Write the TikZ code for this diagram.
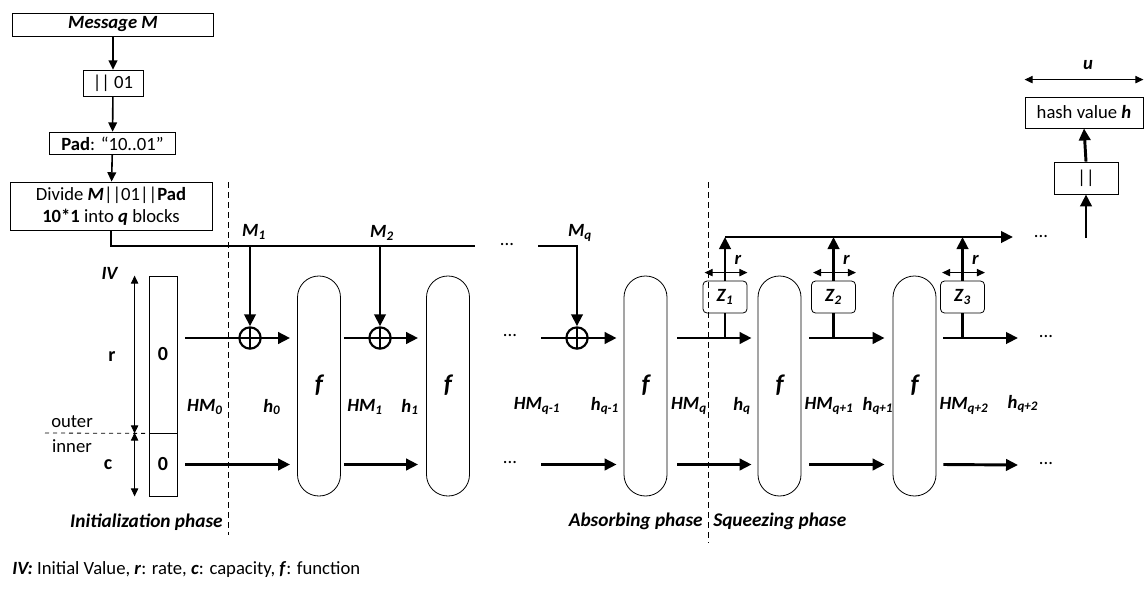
\documentclass[tikz,border=0pt]{standalone}
\usepackage{fontspec}
\setmainfont{Carlito}
\usepackage{tikz}
\usetikzlibrary{arrows.meta,positioning,calc}
\newcommand{\bi}[1]{\textbf{\textit{#1}}}
\newcommand{\sublbl}[2]{\bi{#1}\textsubscript{\bi{#2}}}

\begin{document}
\begin{tikzpicture}[x=0.75pt, y=-0.75pt,
    font=\fontsize{14}{16.5}\selectfont,
    box/.style={draw, rectangle, inner sep=1pt, line width=0.6pt},
    fbox/.style={draw, rectangle, rounded corners=16pt, minimum width=32.25pt, minimum height=165pt, line width=0.6pt,
        text height=1.15em, text depth=0.2em, font=\fontsize{19}{22}\selectfont\bfseries\itshape},
    zbox/.style={draw, rectangle, rounded corners=3pt, minimum width=33pt, minimum height=24pt, line width=0.6pt},
    xorop/.style={draw, circle, minimum size=16pt, inner sep=0pt, line width=1.6pt,
        path picture={\draw[line width=1.6pt] (path picture bounding box.north) -- (path picture bounding box.south)
            (path picture bounding box.west) -- (path picture bounding box.east);}},
    flow/.style={line width=2.2pt, -{Triangle[length=9pt,width=8.5pt]}},
    bus/.style={line width=2.2pt},
    thinflow/.style={line width=1.2pt, -{Triangle[length=7pt,width=6.5pt]}},
    dim/.style={line width=0.7pt, {Triangle[length=6pt,width=5.5pt]}-{Triangle[length=6pt,width=5.5pt]}},
    phaseline/.style={line width=0.6pt, dash pattern=on 4.5pt off 3pt},
    phase/.style={inner sep=0pt, font=\fontsize{14.5}{17}\selectfont\bfseries\itshape},
    lbl/.style={inner sep=0pt}
]
\useasboundingbox (0,0) rectangle (1144,589);

% message preparation
\node[box, minimum width=150.75pt, minimum height=17.25pt] (msg) at (113,24.5) {\bi{Message M}};
\node[box, minimum width=45pt, minimum height=20pt] (cat) at (113,83.5) {|| 01};
\node[box, minimum width=94pt, minimum height=17pt] (pad) at (112.5,143.5) {\textbf{Pad}: “10..01”};
\node[box, minimum width=151.5pt, minimum height=36pt, align=center] (div) at (111,206) {Divide \bi{M}||01||\textbf{Pad}\\ \textbf{10*1} into \bi{q} blocks};
\draw[thinflow] (msg) -- (cat);
\draw[thinflow] (cat) -- (pad);
\draw[thinflow] (pad) -- (div);

% initial value
\node[box, minimum width=21pt, minimum height=117.75pt, font=\fontsize{15}{17}\selectfont\bfseries] (ivr) at (163,354.5) {0};
\node[box, minimum width=21pt, minimum height=47.25pt, font=\fontsize{15}{17}\selectfont\bfseries] (ivc) at (163,464.5) {0};
\node[lbl] (ivlbl) at (110,273) {\bi{IV}};
\node[lbl, font=\fontsize{15}{17}\selectfont\bfseries] (rlbl) at (112,357) {r};
\node[lbl, font=\fontsize{15}{17}\selectfont\bfseries] (clbl) at (108,465) {c};
\node[lbl] (outer) at (72,422) {outer};
\node[lbl] (inner) at (72,446) {inner};
\draw[dim] ($(ivr.north west)+(-14,0)$) -- ($(ivr.south west)+(-14,0)$);
\draw[dim] ($(ivc.north west)+(-14,0)$) -- ($(ivc.south west)+(-14,0)$);
\draw[dashed, line width=0.6pt] (45,433) -- (ivr.south west);

% phase borders
\draw[phaseline] (228,182) -- (228,535);
\draw[phaseline] (708,182) -- (708,543);
\node[phase, anchor=east] (initph) at (223,522) {Initialization phase};
\node[phase, anchor=east] (absph) at (703,521) {Absorbing phase};
\node[phase, anchor=west] (sqzph) at (713,521) {Squeezing phase};

% permutations
\node[fbox] (f1) at (319,386) {f};
\node[fbox] (f2) at (448,386) {f};
\node[fbox] (f3) at (645.5,386) {f};
\node[fbox] (f4) at (779.5,386) {f};
\node[fbox] (f5) at (914.5,386) {f};

% xor with message blocks
\node[xorop] (xor1) at (250,338) {};
\node[xorop] (xor2) at (380,338) {};
\node[xorop] (xor3) at (577,338) {};
\coordinate (busend) at (475,246);
\coordinate (busq) at (538,246);
\draw[bus] (div.south) |- (busend);
\draw[flow] (xor1 |- busend) -- (xor1.north);
\draw[flow] (xor2 |- busend) -- (xor2.north);
\draw[flow] (busq) -| (xor3.north);
\node[lbl] (m1) at (254,232) {\sublbl{M}{1}};
\node[lbl] (m2) at (382,233) {\sublbl{M}{2}};
\node[lbl] (mq) at (580,233) {\sublbl{M}{q}};
\node[lbl] (busdots) at (507,245) {...};

% rate part
\draw[flow] ($(ivr.east |- xor1)+(8,0)$) -- ($(f1.west |- xor1)+(-7,0)$);
\draw[flow] ($(f1.east |- xor2)+(3,0)$) -- ($(f2.west |- xor2)+(-8,0)$);
\node[lbl] (updots1) at (510,336) {...};
\draw[flow] ($(xor3)+(-36,0)$) -- ($(f3.west |- xor3)+(-7,0)$);
\draw[flow] ($(f3.east |- xor3)+(10,0)$) -- ($(f4.west |- xor3)+(-6,0)$);
\draw[flow] ($(f4.east |- xor3)+(8,0)$) -- ($(f5.west |- xor3)+(-8,0)$);
\draw[flow] ($(f5.east |- xor3)+(7,0)$) -- (1018,338);
\node[lbl] (updots2) at (1046,337) {...};

% capacity part
\draw[flow] ($(ivc.east)+(8,0)$) -- ($(f1.west |- ivc)+(-7,0)$);
\draw[flow] ($(f1.east |- ivc)+(3,0)$) -- ($(f2.west |- ivc)+(-8,0)$);
\node[lbl] (lowdots1) at (510,463) {...};
\draw[flow] ($(xor3 |- ivc)+(-36,0)$) -- ($(f3.west |- ivc)+(-7,0)$);
\draw[flow] ($(f3.east |- ivc)+(10,0)$) -- ($(f4.west |- ivc)+(-6,0)$);
\draw[flow] ($(f4.east |- ivc)+(8,0)$) -- ($(f5.west |- ivc)+(-8,0)$);
\draw[flow] ($(f5.east |- ivc)+(7,0)$) -- (1018,465);
\node[lbl] (lowdots2) at (1046,464) {...};

% state labels
\node[lbl] at (205,407) {\sublbl{HM}{0}};
\node[lbl] at (272,407) {\sublbl{h}{0}};
\node[lbl] at (365,407) {\sublbl{HM}{1}};
\node[lbl] at (410,407) {\sublbl{h}{1}};
\node[lbl] at (537,406) {\sublbl{HM}{q-1}};
\node[lbl] at (605,406) {\sublbl{h}{q-1}};
\node[lbl] at (689,406) {\sublbl{HM}{q}};
\node[lbl] at (742,406) {\sublbl{h}{q}};
\node[lbl] at (829,406) {\sublbl{HM}{q+1}};
\node[lbl] at (878,406) {\sublbl{h}{q+1}};
\node[lbl] at (964,406) {\sublbl{HM}{q+2}};
\node[lbl] at (1023,404) {\sublbl{h}{q+2}};

% squeezing outputs
\node[zbox] (z1) at (725,297) {\sublbl{Z}{1}};
\node[zbox] (z2) at (833.5,297) {\sublbl{Z}{2}};
\node[zbox] (z3) at (962.5,297) {\sublbl{Z}{3}};
\coordinate (outend) at (1013,237);
\foreach \z in {z1,z2,z3}{
    \draw[bus] (\z |- xor3) -- (\z.south);
    \draw[flow] (\z.north) -- (\z.north |- outend);
    \draw[dim] ($(\z.north west)+(2,-8)$) -- ($(\z.north east)+(0,-8)$);
    \node[lbl] at ($(\z.north)+(13,-21)$) {\bi{r}};
}
\draw[flow] (z1.north |- outend) -- (outend);
\node[lbl] (outdots) at (1041,237) {...};

% hash value
\node[box, minimum width=88.5pt, minimum height=23.25pt] (hash) at (1084,112.5) {hash value \bi{h}};
\node[box, minimum width=48pt, minimum height=24pt] (bar) at (1086,178) {||};
\coordinate (barin) at (1086,238);
\draw[flow] (bar.north) -- (hash.south);
\draw[flow] (barin) -- (bar.south);
\draw[dim] ($(hash.north west)+(0,-17)$) -- ($(hash.north east)+(0,-17)$);
\node[lbl] (ulbl) at (1088,65) {\bi{u}};

% legend
\node[lbl, anchor=west] (legend) at (12,570) {\bi{IV:} Initial Value, \bi{r}: rate, \bi{c}: capacity, \bi{f}: function};
\end{tikzpicture}
\end{document}
